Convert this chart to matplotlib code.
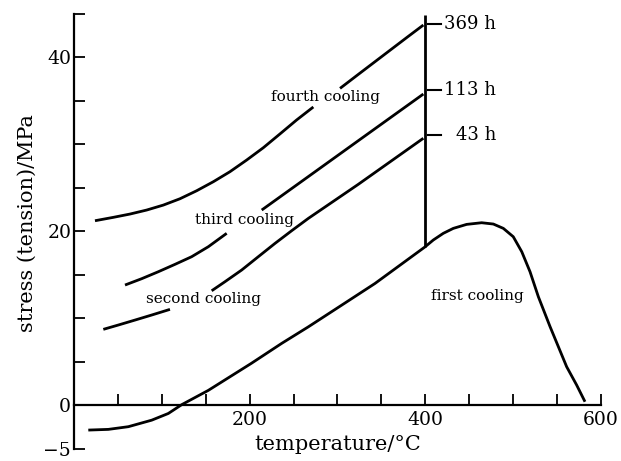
import numpy as np
import matplotlib
matplotlib.use("Agg")
import matplotlib.pyplot as plt

nan = np.nan

# ---- data ----
first_x = [16.3, 39.1, 61.9, 88.5, 107.4, 122.6, 153, 202, 236.6, 266.9, 304.5, 342.8, 399.8,
           409.2, 420.6, 432, 447.2, 464.3, 477.6, 489, 500.3, 510, 519.4, 528.9, 542.1,
           561.1, 572.5, 582]
first_y = [-2.88, -2.80, -2.49, -1.74, -0.97, 0.04, 1.69, 4.80, 7.10, 9.0, 11.47, 13.99, 18.2,
           18.99, 19.76, 20.33, 20.79, 20.98, 20.83, 20.33, 19.37, 17.64, 15.34, 12.46, 9.05,
           4.41, 2.3, 0.38]

second_x = [33.4, 50.5, 69.5, 88.5, 109.3, nan, 156.8, 171.9, 191.0, 209.9, 228.9, 247.9, 266.9,
            323.8, 397.9]
second_y = [8.71, 9.21, 9.78, 10.36, 11.01, nan, 13.15, 14.19, 15.54, 17.07, 18.6, 20.06, 21.48,
            25.4, 30.7]

third_x = [58.1, 77.1, 96.0, 115.0, 134.0, 153.0, 173.9, nan, 213.8, 266.9, 323.8, 397.9]
third_y = [13.81, 14.54, 15.34, 16.19, 17.07, 18.22, 19.76, nan, 22.44, 26.29, 30.42, 35.79]

fourth_x = [23.9, 44.8, 63.8, 82.8, 101.7, 120.7, 139.7, 158.7, 177.6, 196.6, 215.6, 234.6,
            253.5, 272.6, nan, 303, 323.8, 342.8, 361.8, 380.8, 397.9]
fourth_y = [21.21, 21.6, 21.98, 22.44, 23.01, 23.74, 24.66, 25.7, 26.85, 28.19, 29.61, 31.2,
            32.8, 34.3, nan, 36.44, 38.05, 39.51, 40.97, 42.43, 43.73]

hold_x = [400, 400]
hold_y = [18.2, 44.9]

hour_labels = ["369 h", "113 h", "43 h"]
hour_y = [43.8, 36.2, 31.1]

curve_labels = ["first cooling", "second cooling", "third cooling", "fourth cooling"]
curve_label_x = [459, 148, 194, 286]
curve_label_y = [12.5, 12.2, 21.3, 35.4]

x_major = [200, 400, 600]
x_minor = [50, 100, 150, 250, 300, 350, 450, 500, 550]
y_major = [-5, 0, 20, 40]
y_major_labels = ["\u22125", "0", "20", "40"]
y_minor = [5, 10, 15, 25, 30, 35, 45]

# ---- drawing ----
plt.rcParams["font.family"] = ["DejaVu Serif"]
fig = plt.figure(figsize=(6.21, 4.61), dpi=100)
ax = fig.add_axes([74 / 621, 1 - 448.5 / 461, 526.8 / 621, 434.5 / 461])

lw = 2.0
for xs, ys in [(first_x, first_y), (second_x, second_y), (third_x, third_y),
               (fourth_x, fourth_y)]:
    ax.plot(xs, ys, color="black", lw=lw, solid_capstyle="butt",
            solid_joinstyle="round", clip_on=False)
ax.plot(hold_x, hold_y, color="black", lw=lw, solid_capstyle="butt", clip_on=False)

for lab, lx, ly in zip(curve_labels, curve_label_x, curve_label_y):
    ax.text(lx, ly, lab, ha="center", va="center", fontsize=11)

for lab, hy in zip(hour_labels, hour_y):
    ax.plot([403, 418], [hy, hy], color="black", lw=1.5, clip_on=False)
    ax.text(481, hy, lab, ha="right", va="center", fontsize=13)

ax.set_xlim(0, 600)
ax.set_ylim(-5, 45)

for s in ["top", "right"]:
    ax.spines[s].set_visible(False)
ax.spines["bottom"].set_position(("data", 0))
ax.spines["bottom"].set_bounds(0, 600)
ax.spines["left"].set_bounds(-5, 45)
for s in ["bottom", "left"]:
    ax.spines[s].set_linewidth(1.6)
    ax.spines[s].set_capstyle("projecting")

ax.set_xticks(x_major)
ax.set_xticks(x_minor, minor=True)
ax.set_yticks(y_major, y_major_labels)
ax.set_yticks(y_minor, minor=True)

ax.tick_params(axis="x", which="both", direction="in", length=8, width=1.3,
               labelsize=13.5, pad=4)
ax.tick_params(axis="y", which="both", direction="in", length=8, width=1.3,
               labelsize=13.5, pad=2)

ax.set_xlabel("temperature/\u00b0C", fontsize=15, va="top")
ax.xaxis.set_label_coords(0.5, 0.03)
ax.set_ylabel("stress (tension)/MPa", fontsize=15)
ax.yaxis.set_label_coords(-0.07, 0.519)

fig.savefig("out.png", dpi=100)
